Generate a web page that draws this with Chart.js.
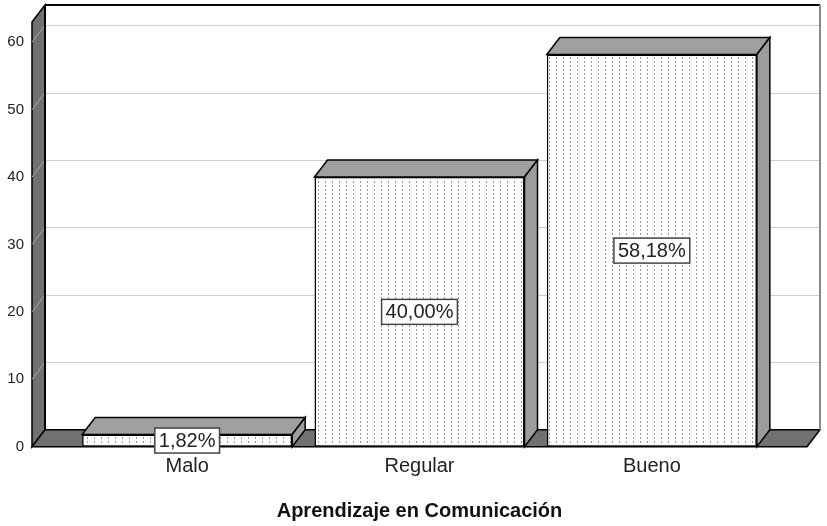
<!DOCTYPE html>
<html>
<head>
<meta charset="utf-8">
<script src="https://cdn.jsdelivr.net/npm/chart.js@4/dist/chart.umd.min.js"></script>
<style>
  html, body { margin: 0; padding: 0; background: #fff; }
</style>
</head>
<body>
<canvas id="chart" width="827" height="526"></canvas>
<script>
// --- data ---
const categories = ['Malo', 'Regular', 'Bueno'];
const percentages = [1.82, 40.00, 58.18];
const percentLabels = ['1,82%', '40,00%', '58,18%'];
const yTickStep = 10;
const yMax = 63;
const axisTitle = 'Aprendizaje en Comunicación';

// --- 3D look ---
const DX = 13, DY = -17;   // depth offset of walls and bars
const SIDE = 39;           // floor beyond the outer categories
const WALL = '#717171';
const FACE = '#a0a0a0';
const FONT = "'Liberation Sans', Arial, sans-serif";

function dotPattern() {
    const c = document.createElement('canvas');
    c.width = 7; c.height = 4;
    const g = c.getContext('2d');
    g.fillStyle = '#fff';
    g.fillRect(0, 0, 7, 4);
    g.fillStyle = '#9a9a9a';
    g.fillRect(3, 1, 1, 2);
    return g.createPattern(c, 'repeat');
}

function poly(ctx, pts, fill, stroke, lw) {
    ctx.beginPath();
    ctx.moveTo(pts[0][0], pts[0][1]);
    for (let i = 1; i < pts.length; i++) ctx.lineTo(pts[i][0], pts[i][1]);
    ctx.closePath();
    if (fill) { ctx.fillStyle = fill; ctx.fill(); }
    if (stroke) { ctx.strokeStyle = stroke; ctx.lineWidth = lw || 1; ctx.stroke(); }
}

const box3d = {
    id: 'box3d',
    beforeDatasetsDraw(chart) {
        const { ctx, chartArea: a, scales: { y } } = chart;
        const L = a.left - SIDE, R = a.right + SIDE;
        const T = a.top, B = y.getPixelForValue(0);
        ctx.save();
        // back wall
        ctx.fillStyle = '#fff';
        ctx.fillRect(L + DX, T + DY, R - L, B - T);
        // gridlines on the back wall
        const ticks = y.ticks.map(t => t.value).filter(v => v > 0);
        ctx.strokeStyle = '#cccccc';
        ctx.lineWidth = 1;
        ticks.forEach(v => {
            const py = Math.round(y.getPixelForValue(v) + DY) + 0.5;
            ctx.beginPath();
            ctx.moveTo(L + DX, py);
            ctx.lineTo(R + DX, py);
            ctx.stroke();
        });
        // left wall
        poly(ctx, [[L, T], [L + DX, T + DY], [L + DX, B + DY], [L, B]], WALL, '#000', 1.5);
        ctx.strokeStyle = '#a8a8a8';
        ctx.lineWidth = 1;
        ticks.forEach(v => {
            const py = y.getPixelForValue(v);
            ctx.beginPath();
            ctx.moveTo(L, py);
            ctx.lineTo(L + DX, py + DY);
            ctx.stroke();
        });
        // floor
        poly(ctx, [[L, B], [R, B], [R + DX, B + DY], [L + DX, B + DY]], WALL, '#000', 1.5);
        // back wall borders
        ctx.lineWidth = 2;
        ctx.strokeStyle = '#000';
        ctx.beginPath();
        ctx.moveTo(L + DX, T + DY);
        ctx.lineTo(R + DX, T + DY);
        ctx.stroke();
        ctx.beginPath();
        ctx.moveTo(L + DX, T + DY);
        ctx.lineTo(L + DX, B + DY);
        ctx.stroke();
        ctx.strokeStyle = '#888';
        ctx.beginPath();
        ctx.moveTo(R + DX, T + DY);
        ctx.lineTo(R + DX, B + DY);
        ctx.stroke();
        ctx.restore();
    },
    afterDatasetsDraw(chart) {
        const { ctx } = chart;
        const meta = chart.getDatasetMeta(0);
        ctx.save();
        meta.data.forEach((bar, i) => {
            const { x, y, base, width } = bar.getProps(['x', 'y', 'base', 'width'], true);
            const l = x - width / 2, r = x + width / 2;
            // top face and right side
            poly(ctx, [[l, y], [l + DX, y + DY], [r + DX, y + DY], [r, y]], FACE, '#000', 1.5);
            poly(ctx, [[r, y], [r + DX, y + DY], [r + DX, base + DY], [r, base]], '#9c9c9c', '#000', 1.5);
            // percentage label
            ctx.font = '20px ' + FONT;
            const tw = ctx.measureText(percentLabels[i]).width;
            const cy = (y + base) / 2;
            const bw = tw + 8, bh = 25;
            ctx.fillStyle = '#fff';
            ctx.fillRect(x - bw / 2, cy - bh / 2, bw, bh);
            ctx.strokeStyle = '#444';
            ctx.lineWidth = 1.5;
            ctx.strokeRect(x - bw / 2, cy - bh / 2, bw, bh);
            ctx.fillStyle = '#222';
            ctx.textAlign = 'center';
            ctx.textBaseline = 'middle';
            ctx.fillText(percentLabels[i], x, cy + 1);
        });
        ctx.restore();
    }
};

new Chart(document.getElementById('chart'), {
    type: 'bar',
    data: {
        labels: categories,
        datasets: [{
            data: percentages,
            backgroundColor: dotPattern(),
            borderColor: '#000',
            borderWidth: 1.5,
            borderSkipped: false,
            barPercentage: 0.904,
            categoryPercentage: 1
        }]
    },
    options: {
        responsive: false,
        animation: false,
        layout: { autoPadding: false, padding: { top: 22, right: 59, left: 0, bottom: 0 } },
        plugins: {
            legend: { display: false },
            tooltip: { enabled: false }
        },
        scales: {
            x: {
                grid: { display: false, drawTicks: false },
                border: { display: false },
                afterFit(s) { s.height = 79.3; s.paddingLeft = 0; s.paddingRight = 0; },
                ticks: { color: '#222', padding: 8, font: { family: FONT, size: 20 } },
                title: {
                    display: true,
                    text: axisTitle,
                    color: '#111',
                    padding: { top: 0, bottom: 3 },
                    font: { family: FONT, size: 20, weight: 'bold' }
                }
            },
            y: {
                min: 0,
                max: yMax,
                grid: { display: false, drawTicks: false },
                border: { display: false },
                afterFit(s) { s.width = 71; s.paddingTop = 0; s.paddingBottom = 0; },
                ticks: {
                    stepSize: yTickStep,
                    includeBounds: false,
                    padding: 47,
                    color: '#222',
                    font: { family: FONT, size: 15 }
                }
            }
        }
    },
    plugins: [box3d]
});
</script>
</body>
</html>
